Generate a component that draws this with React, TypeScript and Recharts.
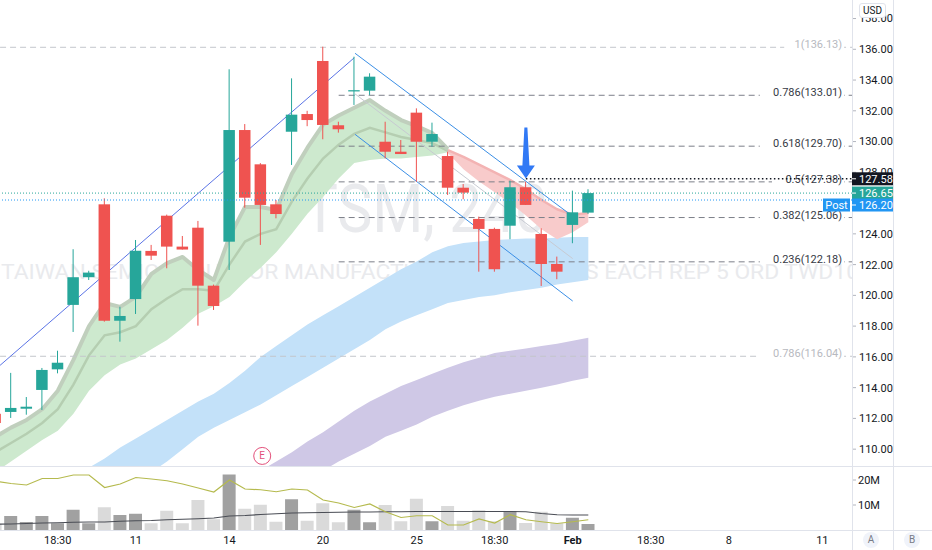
import React from 'react';
import {
  ComposedChart,
  Bar,
  Line,
  Area,
  XAxis,
  YAxis,
  ReferenceLine,
  ReferenceDot,
  Cell,
} from 'recharts';

const FONT = 'Roboto, "Noto Sans", sans-serif';
const UP = '#26a69a';
const DOWN = '#ef5350';

// 4h candles, index 0 = first full candle on screen (index -1 is cut by the left edge)
const FIRST_INDEX = -1;
const opens = [112.3, 112.42, 112.63, 113.85, 115.19, 119.38, 121.18, 125.92, 118.35, 119.76, 122.89, 125.18, 123.17, 124.4, 120.63, 123.49, 130.75, 128.52, 125.92, 130.64, 131.79, 135.24, 131.06, 133.26, 133.31, 129.99, 129.34, 131.88, 129.99, 129.06, 127.0, 124.97, 124.32, 124.53, 127.03, 123.99, 122.04, 124.58, 125.38];
const highs = [112.6, 114.96, 113.39, 115.28, 116.4, 123.0, 121.6, 126.31, 119.26, 123.6, 123.28, 125.25, 123.86, 124.84, 120.7, 134.7, 131.14, 128.6, 126.2, 134.11, 132.0, 136.17, 131.29, 135.52, 134.44, 131.29, 130.1, 132.16, 131.23, 129.34, 127.24, 125.12, 124.4, 127.46, 127.39, 124.36, 122.52, 126.81, 126.9];
const lows = [111.5, 112.03, 112.24, 112.55, 114.93, 117.62, 121.0, 118.29, 116.99, 118.79, 122.3, 121.76, 122.98, 118.03, 119.05, 121.65, 125.7, 123.28, 125.01, 128.48, 131.0, 130.15, 130.58, 132.38, 133.03, 128.91, 129.19, 127.39, 129.67, 126.53, 126.25, 121.54, 121.54, 123.65, 125.88, 120.61, 121.05, 123.39, 125.3];
const closes = [111.7, 112.68, 112.76, 115.15, 115.62, 121.18, 121.48, 118.35, 118.66, 122.9, 122.58, 123.17, 122.98, 120.63, 119.31, 130.75, 126.35, 125.88, 125.29, 131.75, 131.4, 131.08, 130.8, 133.34, 134.22, 129.34, 129.19, 129.99, 130.49, 127.0, 126.68, 124.32, 121.7, 127.03, 125.88, 122.04, 121.54, 125.4, 126.65];

// volume pane, millions
const volumes = [2.4, 5.6, 3.2, 5.6, 2.7, 8.1, 2.7, 9.1, 6.0, 6.5, 2.7, 7.7, 2.7, 12.0, 4.3, 22.2, 8.5, 10.1, 3.3, 12.3, 3.7, 10.7, 3.1, 8.1, 3.1, 10.0, 3.5, 12.5, 3.5, 9.6, 3.7, 7.9, 3.5, 7.6, 2.8, 7.3, 2.7, 4.9, 2.4];
const volumeAvg = [2.3, 2.4, 2.6, 2.8, 2.9, 3.1, 3.2, 3.2, 3.5, 3.7, 3.8, 4.1, 4.3, 4.5, 4.8, 5.6, 5.8, 6.2, 6.5, 6.8, 6.9, 7.0, 7.1, 7.2, 7.2, 7.3, 7.3, 7.4, 7.4, 7.4, 7.4, 7.4, 7.4, 7.4, 7.3, 6.6, 6.1, 6.0, 6.0];
const relVolume = [19.5, 18.6, 18.0, 20.6, 20.6, 22.0, 22.0, 17.0, 18.4, 21.0, 20.4, 19.7, 18.4, 16.8, 15.2, 20.0, 16.4, 16.1, 15.3, 16.4, 16.0, 12.0, 10.8, 9.0, 10.4, 7.3, 5.0, 5.7, 5.7, 2.0, 2.0, 4.4, 2.8, 6.1, 4.1, 3.3, 2.6, 3.3, 4.1];

// EMA ribbon, green part
const GREEN_FROM = -1;
const greenTop = [110.8, 111.4, 111.9, 112.6, 113.8, 115.8, 118.0, 119.5, 119.25, 119.9, 121.4, 122.1, 122.5, 121.65, 121.0, 123.8, 125.75, 125.75, 125.55, 127.9, 129.6, 131.1, 131.7, 132.2, 132.7, 132.0, 131.4, 131.0, 130.55, 129.5];
const greenMid = [109.8, 110.4, 111.0, 111.7, 112.6, 114.2, 116.1, 117.4, 117.6, 118.0, 119.1, 119.8, 120.4, 120.4, 120.3, 122.0, 123.5, 124.0, 124.3, 126.1, 127.6, 128.9, 129.8, 130.5, 130.9, 130.6, 130.3, 130.1, 129.9, 129.4];
const greenBottom = [108.5, 109.2, 109.9, 110.6, 111.2, 112.3, 113.8, 114.8, 115.5, 115.9, 116.5, 117.1, 117.9, 118.8, 119.3, 119.9, 120.9, 121.8, 122.8, 124.0, 125.3, 126.4, 127.6, 128.6, 128.8, 128.9, 128.9, 129.0, 129.1, 129.3];

// EMA ribbon, red part
const RED_FROM = 28;
const redTop = [129.45, 129.0, 128.5, 128.0, 127.5, 126.9, 126.2, 125.6, 125.25, 125.35];
const redBottom = [129.26, 128.2, 127.4, 126.7, 126.0, 125.2, 124.3, 123.65, 124.1, 124.75];

// slower clouds
const BLUE_FROM = 4;
const blueTop = [108.2, 108.8, 109.4, 110.1, 110.7, 111.3, 111.9, 112.5, 113.1, 113.6, 114.3, 115.1, 116.0, 116.7, 117.4, 118.1, 118.7, 119.3, 119.9, 120.5, 121.1, 121.7, 122.2, 122.8, 123.2, 123.4, 123.5, 123.6, 123.65, 123.7, 123.7, 123.75, 123.8, 123.8];
const blueBottom = [104.5, 105.2, 105.9, 106.6, 107.5, 108.5, 109.2, 110.0, 110.8, 111.4, 111.9, 112.4, 112.9, 113.5, 114.1, 114.7, 115.3, 115.9, 116.5, 117.1, 117.8, 118.3, 118.7, 119.1, 119.5, 119.7, 119.9, 120.0, 120.2, 120.35, 120.5, 120.7, 120.85, 121.0];
const PURPLE_FROM = 15;
const purpleTop = [107.9, 108.6, 109.2, 109.8, 110.5, 111.1, 111.8, 112.5, 113.1, 113.6, 114.1, 114.5, 114.9, 115.3, 115.65, 115.95, 116.25, 116.4, 116.55, 116.7, 116.85, 117.05, 117.25];
const purpleBottom = [105.3, 105.9, 106.6, 107.3, 108.0, 108.6, 109.2, 109.7, 110.2, 110.8, 111.2, 111.6, 112.1, 112.5, 112.85, 113.15, 113.4, 113.6, 113.8, 114.0, 114.2, 114.45, 114.65];

// 126.00 sits under the price tags, so it is left out
const priceTicks = [110, 112, 114, 116, 118, 120, 122, 124, 128, 130, 132, 134, 136, 138];
const volumeTicks = [10, 20];
const timeTicks = [3, 8, 14, 20, 26, 31, 36, 41, 46, 52];
const timeLabels = ['18:30', '11', '14', '20', '25', '18:30', 'Feb', '18:30', '8', '11'];

const fibLevels = ['1', '0.786', '0.618', '0.5', '0.382', '0.236', '0.786'];
const fibPrices = [136.13, 133.01, 129.7, 127.38, 125.06, 122.18, 116.04];
const fibStart = [-0.7, 21, 21, 21, 21, 21, -0.7];
const fibFaded = [true, false, false, false, false, false, true];

// drawings: [index, price] pairs
const trendLines = [
  { from: [-0.7, 115.45], to: [22.0, 135.45], color: '#5b74e6' },
  { from: [22.05, 135.74], to: [36.0, 125.14], color: '#3b8fe6' },
  { from: [22.05, 130.47], to: [36.0, 119.63], color: '#3b8fe6' },
];
const channelMid = { from: [22.05, 133.1], to: [36.0, 122.39] };

const markPrice = 127.58;
const markFrom = 33;
const lastPrice = 126.65;
const postPrice = 126.2;
const arrowAt = { i: 33, price: 127.6 };
const earningsAt = { i: 16.1, price: 109.56 };

const watermarkTitle = 'TSM, 240';
const watermarkSubtitle = 'TAIWAN SEMICONDUCTOR MANUFACTURING SPONS ADS EACH REP 5 ORD TWD10';

const X_MIN = -0.705;
const X_MAX = 53.9;
const PRICE_DOMAIN = [108.84, 139.205];

function pick(values: number[], from: number, i: number) {
  const k = i - from;
  return k >= 0 && k < values.length ? values[k] : undefined;
}

function band(lo: number[], hi: number[], from: number, i: number) {
  const a = pick(lo, from, i);
  const b = pick(hi, from, i);
  return a === undefined || b === undefined ? undefined : [a, b];
}

const rows = opens.map((o, k) => {
  const i = FIRST_INDEX + k;
  return {
    i,
    o,
    hi: highs[k],
    lo: lows[k],
    c: closes[k],
    vol: volumes[k],
    volAvg: volumeAvg[k],
    rel: relVolume[k],
    green: band(greenBottom, greenTop, GREEN_FROM, i),
    greenTop: pick(greenTop, GREEN_FROM, i),
    greenMid: pick(greenMid, GREEN_FROM, i),
    red: band(redBottom, redTop, RED_FROM, i),
    redTop: pick(redTop, RED_FROM, i),
    blue: band(blueBottom, blueTop, BLUE_FROM, i),
    purple: band(purpleBottom, purpleTop, PURPLE_FROM, i),
  };
});

function Candle(props: any) {
  const { x, y, width, height, payload } = props;
  if (!payload) return null;
  const top = Math.min(y, y + height);
  const h = Math.abs(height);
  const { o, hi, lo, c } = payload;
  const toY = (p: number) => (hi === lo ? top : top + ((hi - p) / (hi - lo)) * h);
  const cx = x + width / 2;
  const color = c >= o ? UP : DOWN;
  const bodyTop = toY(Math.max(o, c));
  const bodyBottom = toY(Math.min(o, c));
  return (
    <g>
      <line x1={cx} x2={cx} y1={top} y2={top + h} stroke={color} strokeWidth={1} />
      <rect x={cx - 5.75} y={bodyTop} width={11.5} height={Math.max(1, bodyBottom - bodyTop)} fill={color} />
    </g>
  );
}

function FibLabel(props: any) {
  const { cx, cy, text, color } = props;
  const w = text.length * 6.1 + 4;
  return (
    <g>
      <rect x={cx - w} y={cy - 10} width={w + 1} height={12} fill="#fff" />
      <text x={cx - 1} y={cy + 1} textAnchor="end" fontSize={11} fill={color} fontFamily={FONT}>
        {text}
      </text>
    </g>
  );
}

function PriceTag(props: any) {
  const { cx, cy, text, bg, nudge = 0, post } = props;
  const y = cy + nudge;
  return (
    <g>
      <rect x={cx} y={y - 6.5} width={41} height={13} fill={bg} />
      <line x1={cx} x2={cx + 4} y1={y} y2={y} stroke="#fff" />
      <text x={cx + 7} y={y + 4} fontSize={11} fill="#fff" fontFamily={FONT}>
        {text}
      </text>
      {post && (
        <g>
          <rect x={cx - 29} y={y - 6.5} width={27} height={13} fill={bg} />
          <text x={cx - 15.5} y={y + 4} textAnchor="middle" fontSize={11} fill="#fff" fontFamily={FONT}>
            Post
          </text>
        </g>
      )}
    </g>
  );
}

function DownArrow(props: any) {
  const { cx, cy } = props;
  const d = `M${cx - 1.5},${cy - 51} L${cx + 1.5},${cy - 51} L${cx + 3.5},${cy - 13} L${cx + 9},${cy - 13} L${cx},${cy} L${cx - 9},${cy - 13} L${cx - 3.5},${cy - 13} Z`;
  return <path d={d} fill="#3179f5" />;
}

function EarningsMark(props: any) {
  const { cx, cy } = props;
  return (
    <g>
      <circle cx={cx} cy={cy} r={8.5} fill="#fff" stroke="#e3507a" strokeWidth={1} />
      <text x={cx} y={cy + 3.5} textAnchor="middle" fontSize={10} fill="#e3507a" fontFamily={FONT}>
        E
      </text>
    </g>
  );
}

function TimeTick(props: any) {
  const { x, y, payload } = props;
  const label = timeLabels[timeTicks.indexOf(payload.value)];
  if (label === undefined) return null;
  const isMonth = /^[A-Za-z]/.test(label);
  return (
    <text x={x} y={y + 14} textAnchor="middle" fontSize={11} fill="#131722" fontWeight={isMonth ? 700 : 400} fontFamily={FONT}>
      {label}
    </text>
  );
}

const axisTick = { fontSize: 11, fill: '#131722', fontFamily: FONT };

function PriceChart() {
  return (
    <ComposedChart width={932} height={467} data={rows} margin={{ top: 0, right: 39, bottom: 0, left: 0 }}>
      <XAxis type="number" dataKey="i" domain={[X_MIN, X_MAX]} allowDataOverflow hide />
      <YAxis
        orientation="right"
        domain={PRICE_DOMAIN}
        allowDataOverflow
        ticks={priceTicks}
        interval={0}
        width={41}
        axisLine={false}
        tickLine={{ stroke: '#b2b5be' }}
        tickSize={4}
        tickMargin={3}
        tick={axisTick}
        tickFormatter={(v: number) => v.toFixed(2)}
      />

      <Area dataKey="blue" stroke="none" fill="#c3e1f9" fillOpacity={1} isAnimationActive={false} zIndex={100} />
      <Area dataKey="purple" stroke="none" fill="#cfc8e6" fillOpacity={1} isAnimationActive={false} zIndex={100} />
      <Area dataKey="green" stroke="none" fill="#cde9ce" fillOpacity={1} isAnimationActive={false} zIndex={110} />
      <Area dataKey="red" stroke="none" fill="#f8cbcb" fillOpacity={1} isAnimationActive={false} zIndex={110} />
      <Line dataKey="greenMid" stroke="#b5ceb1" strokeWidth={2.5} dot={false} activeDot={false} isAnimationActive={false} zIndex={120} />
      <Line dataKey="greenTop" stroke="#c0cfbd" strokeWidth={4} strokeLinejoin="round" dot={false} activeDot={false} isAnimationActive={false} zIndex={120} />
      <Line dataKey="redTop" stroke="#f3b3b3" strokeWidth={2.5} strokeLinejoin="round" dot={false} activeDot={false} isAnimationActive={false} zIndex={120} />

      {fibPrices.map((p, k) => (
        <ReferenceLine
          key={`fib-${k}`}
          segment={[{ x: fibStart[k], y: p }, { x: X_MAX, y: p }]}
          stroke={fibFaded[k] ? '#c4c6cc' : '#7c7f89'}
          strokeDasharray="6 4"
          ifOverflow="hidden"
          zIndex={200}
        />
      ))}
      {trendLines.map((t, k) => (
        <ReferenceLine
          key={`trend-${k}`}
          segment={[{ x: t.from[0], y: t.from[1] }, { x: t.to[0], y: t.to[1] }]}
          stroke={t.color}
          strokeWidth={1}
          ifOverflow="hidden"
          zIndex={210}
        />
      ))}
      <ReferenceLine
        segment={[{ x: channelMid.from[0], y: channelMid.from[1] }, { x: channelMid.to[0], y: channelMid.to[1] }]}
        stroke="#c7cad2"
        strokeWidth={1}
        ifOverflow="hidden"
        zIndex={205}
      />

      <Bar dataKey={(d: any) => [d.lo, d.hi]} shape={<Candle />} barSize={11} isAnimationActive={false} zIndex={300} />

      <ReferenceLine y={lastPrice} stroke={UP} strokeDasharray="1 2" ifOverflow="hidden" zIndex={400} />
      <ReferenceLine y={postPrice} stroke="#2196f3" strokeDasharray="1 2" ifOverflow="hidden" zIndex={400} />

      {fibPrices.map((p, k) => (
        <ReferenceDot
          key={`fibl-${k}`}
          x={53.33}
          y={p}
          r={0}
          ifOverflow="visible"
          zIndex={410}
          shape={<FibLabel text={`${fibLevels[k]}(${p.toFixed(2)})`} color={fibFaded[k] ? '#b7b9c0' : '#363a45'} />}
        />
      ))}
      <ReferenceLine
        segment={[{ x: markFrom, y: markPrice }, { x: X_MAX, y: markPrice }]}
        stroke="#131722"
        strokeWidth={1.5}
        strokeDasharray="1.5 2.5"
        ifOverflow="hidden"
        zIndex={420}
      />

      <ReferenceDot x={arrowAt.i} y={arrowAt.price} r={0} ifOverflow="visible" zIndex={430} shape={<DownArrow />} />
      <ReferenceDot x={earningsAt.i} y={earningsAt.price} r={0} ifOverflow="visible" zIndex={430} shape={<EarningsMark />} />
    </ComposedChart>
  );
}

// price-axis tags sit in their own layer so they cover the tick labels
function PriceTags() {
  return (
    <ComposedChart width={932} height={467} data={rows} margin={{ top: 0, right: 80, bottom: 0, left: 0 }}>
      <XAxis type="number" dataKey="i" domain={[X_MIN, X_MAX]} allowDataOverflow hide />
      <YAxis domain={PRICE_DOMAIN} allowDataOverflow hide />
      <ReferenceDot x={X_MAX} y={markPrice} r={0} ifOverflow="visible" shape={<PriceTag text={markPrice.toFixed(2)} bg="#131722" />} />
      <ReferenceDot x={X_MAX} y={lastPrice} r={0} ifOverflow="visible" shape={<PriceTag text={lastPrice.toFixed(2)} bg={UP} />} />
      <ReferenceDot x={X_MAX} y={postPrice} r={0} ifOverflow="visible" shape={<PriceTag text={postPrice.toFixed(2)} bg="#2196f3" nudge={5} post />} />
    </ComposedChart>
  );
}

function VolumeChart() {
  return (
    <ComposedChart width={932} height={83} data={rows} margin={{ top: 0, right: 39, bottom: 0, left: 0 }}>
      <XAxis
        type="number"
        dataKey="i"
        domain={[X_MIN, X_MAX]}
        allowDataOverflow
        ticks={timeTicks}
        interval={0}
        height={20}
        axisLine={false}
        tickLine={false}
        tickSize={0}
        tickMargin={0}
        tick={<TimeTick />}
      />
      <YAxis
        orientation="right"
        domain={[0, 25.2]}
        allowDataOverflow
        ticks={volumeTicks}
        interval={0}
        width={41}
        axisLine={false}
        tickLine={{ stroke: '#b2b5be' }}
        tickSize={4}
        tickMargin={2}
        tick={axisTick}
        tickFormatter={(v: number) => `${v}M`}
      />
      <Bar dataKey="vol" barSize={13} isAnimationActive={false}>
        {rows.map((r) => (
          <Cell key={`v-${r.i}`} fill={r.c >= r.o ? '#a1a1a1' : '#dadada'} />
        ))}
      </Bar>
      <Line dataKey="volAvg" stroke="#4a4d55" strokeWidth={1.2} dot={false} activeDot={false} isAnimationActive={false} />
      <Line dataKey="rel" stroke="#b5ba4e" strokeWidth={1.2} dot={false} activeDot={false} isAnimationActive={false} />
    </ComposedChart>
  );
}

const hLine = (top: number): React.CSSProperties => ({ position: 'absolute', left: 0, top, width: 932, height: 1, background: '#e0e3eb' });
const vLine = (left: number): React.CSSProperties => ({ position: 'absolute', left, top: 0, width: 1, height: 550, background: '#e0e3eb' });
const button = (left: number): React.CSSProperties => ({
  position: 'absolute',
  left,
  top: 532,
  width: 16,
  height: 16,
  borderRadius: 8,
  background: '#f0f3fa',
  color: '#787b86',
  fontSize: 10,
  lineHeight: '16px',
  textAlign: 'center',
});

export default function App() {
  return (
    <div style={{ position: 'relative', width: 932, height: 550, background: '#fff', overflow: 'hidden', fontFamily: FONT }}>
      <style>{'body{margin:0}'}</style>
      <svg width={852} height={467} style={{ position: 'absolute', left: 0, top: 0 }}>
        <text x={303} y={232} fontSize={66} textLength={245} lengthAdjust="spacingAndGlyphs" fill="#e9eaed" fontFamily={FONT}>
          {watermarkTitle}
        </text>
        <text x={1} y={279} fontSize={21} textLength={858} lengthAdjust="spacingAndGlyphs" fill="#e9eaed" fontFamily={FONT}>
          {watermarkSubtitle}
        </text>
      </svg>
      <div style={{ position: 'absolute', left: 0, top: 0 }}>
        <PriceChart />
      </div>
      <div style={{ position: 'absolute', left: 0, top: 467 }}>
        <VolumeChart />
      </div>
      <div style={hLine(466)} />
      <div style={hLine(530)} />
      <div style={vLine(852)} />
      <div style={vLine(893)} />
      <div style={{ position: 'absolute', left: 0, top: 0 }}>
        <PriceTags />
      </div>
      <div
        style={{
          position: 'absolute',
          left: 859,
          top: 3,
          width: 25,
          height: 13,
          border: '1px solid #e0e3eb',
          borderRadius: 3,
          background: '#fff',
          fontSize: 10,
          lineHeight: '13px',
          textAlign: 'center',
          color: '#131722',
        }}
      >
        USD
      </div>
      <div style={button(863)}>A</div>
      <div style={button(904)}>B</div>
    </div>
  );
}
